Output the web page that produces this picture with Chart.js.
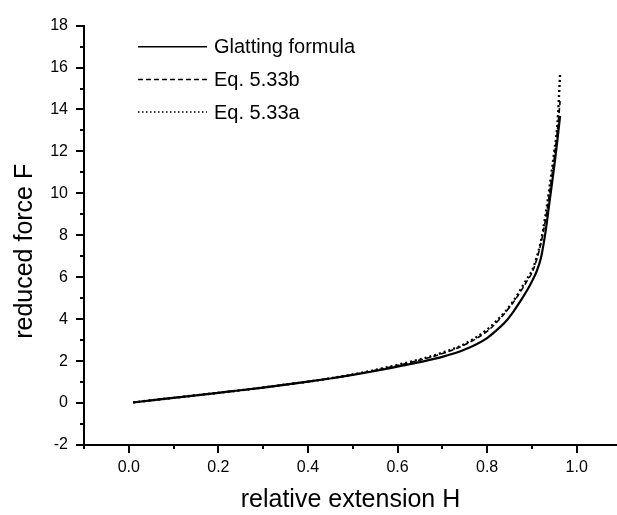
<!DOCTYPE html>
<html>
<head>
<meta charset="utf-8">
<style>
html,body{margin:0;padding:0;background:#fff;overflow:hidden;}
#wrap{width:617px;height:515px;position:relative;}
</style>
<script src="https://cdn.jsdelivr.net/npm/chart.js@4"></script>
</head>
<body>
<div id="wrap"><canvas id="c" width="617" height="515"></canvas></div>
<script>
// ---- data ----
const extensionH = [0.01,0.05,0.1,0.15,0.2,0.25,0.3,0.35,0.4,0.45,0.5,0.55,0.6,0.65,0.7,0.75,0.8,0.82,0.84,0.86,0.88,0.89,0.9,0.91,0.92,0.93,0.94,0.95,0.957,0.963];
const glattingF = [0.03,0.13,0.25,0.37,0.49,0.61,0.74,0.88,1.02,1.17,1.34,1.53,1.74,1.95,2.2,2.55,3.1,3.45,3.85,4.4,5.05,5.4,5.8,6.25,6.9,8.1,9.7,11.3,12.55,13.7];
const eq533bF  = [0.03,0.13,0.25,0.37,0.49,0.61,0.74,0.88,1.02,1.18,1.35,1.56,1.79,2.05,2.36,2.78,3.42,3.82,4.3,4.85,5.5,5.85,6.2,6.8,7.6,8.7,10.1,11.7,13.0,14.4];
const eq533aF  = [0.03,0.13,0.25,0.37,0.49,0.61,0.74,0.88,1.02,1.18,1.36,1.58,1.82,2.08,2.4,2.82,3.5,3.9,4.35,4.9,5.6,5.95,6.3,6.9,7.7,8.9,10.4,12.0,13.3,15.7];
const seriesNames = ["Glatting formula","Eq. 5.33b","Eq. 5.33a"];
const xTickValues = [-0.1,0.0,0.1,0.2,0.3,0.4,0.5,0.6,0.7,0.8,0.9,1.0];
const xTickLabels = ["","0.0","","0.2","","0.4","","0.6","","0.8","","1.0"];
const yTickValues = [-2,-1,0,1,2,3,4,5,6,7,8,9,10,11,12,13,14,15,16,17,18];
const xAxisTitle = "relative extension H";
const yAxisTitle = "reduced force F";

const FONT = "'Liberation Sans', Arial, sans-serif";

function pts(ys){ return extensionH.map((h,i)=>({x:h,y:ys[i]})); }

const legendPlugin = {
  id:'customLegend',
  afterDraw(chart){
    const ctx = chart.ctx;
    const rows = [46.7, 79.5, 112];
    chart.data.datasets.forEach((ds,i)=>{
      ctx.save();
      ctx.strokeStyle = ds.borderColor;
      ctx.lineWidth = ds.legendWidth || ds.borderWidth;
      ctx.setLineDash(ds.legendDash || ds.borderDash || []);
      ctx.beginPath();
      ctx.moveTo(138, rows[i]);
      ctx.lineTo(207, rows[i]);
      ctx.stroke();
      ctx.setLineDash([]);
      ctx.fillStyle = '#000';
      ctx.font = "20px " + FONT;
      ctx.textBaseline = 'middle';
      ctx.textAlign = 'left';
      ctx.fillText(ds.label, 214, rows[i] + 1);
      ctx.restore();
    });
  }
};

// y-axis title drawn centred slightly below the plot centre, as in the reference
const yTitlePlugin = {
  id:'yTitle',
  afterDraw(chart){
    const ctx = chart.ctx;
    const ys = chart.scales.y;
    const cy = (ys.top + ys.bottom) / 2 + 16;
    ctx.save();
    ctx.translate(25, cy);
    ctx.rotate(-Math.PI / 2);
    ctx.fillStyle = '#000';
    ctx.font = "25px " + FONT;
    ctx.textAlign = 'center';
    ctx.textBaseline = 'middle';
    ctx.fillText(yAxisTitle, 0, 0);
    ctx.restore();
  }
};

const tickMarkPlugin = {
  id:'tickMarks',
  afterDraw(chart){
    const ctx = chart.ctx;
    const xs = chart.scales.x, ys = chart.scales.y;
    ctx.save();
    ctx.strokeStyle = '#000';
    ctx.lineWidth = 2;
    ctx.beginPath();
    xs.ticks.forEach((t,i)=>{
      const px = Math.round(xs.getPixelForValue(t.value));
      const major = xTickLabels[i] !== "";
      ctx.moveTo(px, xs.top);
      ctx.lineTo(px, xs.top + (major ? 8 : 4));
    });
    ys.ticks.forEach(t=>{
      const py = Math.round(ys.getPixelForValue(t.value));
      const major = Math.abs(t.value % 2) < 1e-9;
      ctx.moveTo(ys.right, py);
      ctx.lineTo(ys.right - (major ? 8 : 4), py);
    });
    ctx.stroke();
    ctx.restore();
  }
};

new Chart(document.getElementById('c'), {
  type:'line',
  data:{
    datasets:[
      {label:seriesNames[0], data:pts(glattingF), borderColor:'#000', borderWidth:2.2, borderDash:[], pointRadius:0, fill:false, cubicInterpolationMode:'monotone', legendWidth:1.6},
      {label:seriesNames[1], data:pts(eq533bF), borderColor:'#000', borderWidth:1.6, borderDash:[5,3], pointRadius:0, fill:false, cubicInterpolationMode:'monotone', legendWidth:1.3},
      {label:seriesNames[2], data:pts(eq533aF), borderColor:'#000', borderWidth:2.4, borderDash:[2,3], pointRadius:0, fill:false, cubicInterpolationMode:'monotone', legendWidth:1.4, legendDash:[1.5,2.5]}
    ]
  },
  options:{
    responsive:false,
    animation:false,
    layout:{padding:{top:12,right:0,left:0,bottom:0}},
    plugins:{legend:{display:false}, tooltip:{enabled:false}},
    scales:{
      x:{
        type:'linear', min:-0.1, max:1.09,
        afterBuildTicks(scale){ scale.ticks = xTickValues.map(v=>({value:v})); },
        afterFit(scale){ scale.height = 70; },
        ticks:{
          autoSkip:false, maxRotation:0, padding:13, color:'#000',
          font:{family:FONT, size:16},
          callback(v, i){ return xTickLabels[i]; }
        },
        grid:{display:false, drawTicks:false},
        border:{display:true, color:'#000', width:2},
        title:{display:true, text:xAxisTitle, color:'#000', font:{family:FONT, size:25}, padding:{top:0,bottom:0}}
      },
      y:{
        type:'linear', min:-2, max:18,
        afterBuildTicks(scale){ scale.ticks = yTickValues.map(v=>({value:v})); },
        afterFit(scale){ scale.width = 84; },
        ticks:{
          autoSkip:false, padding:16, color:'#000',
          font:{family:FONT, size:16},
          callback(v){ return (v % 2 === 0) ? String(v) : ''; }
        },
        grid:{display:false, drawTicks:false},
        border:{display:true, color:'#000', width:2},
        title:{display:false, text:yAxisTitle}
      }
    }
  },
  plugins:[legendPlugin, yTitlePlugin, tickMarkPlugin]
});
</script>
</body>
</html>
